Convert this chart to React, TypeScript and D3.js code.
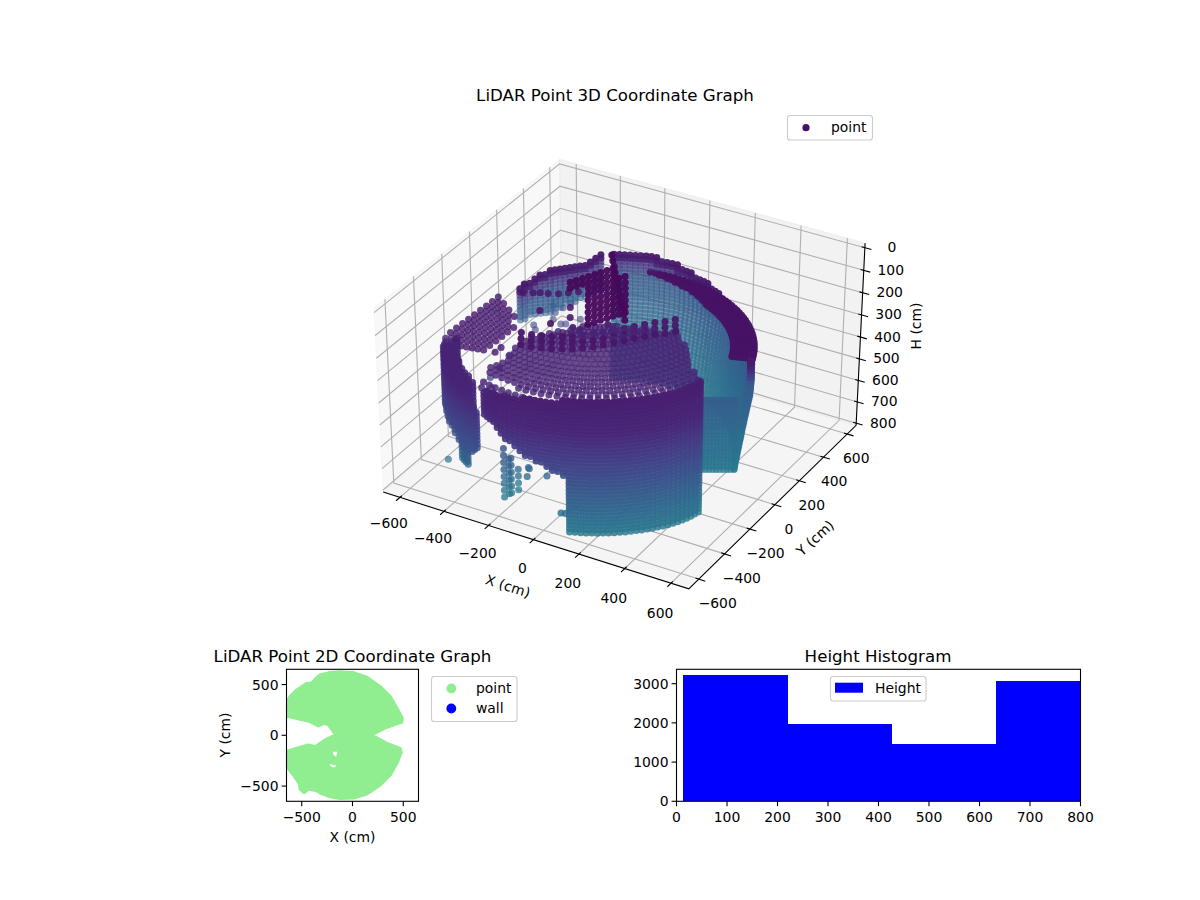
import * as d3 from 'd3';

// Point cloud values are estimates read off the picture: the real ~9650 points
// cannot be read one by one, so walls are typed as scan columns (azimuth, range,
// top and bottom height) and expanded over the lidar's scan rows below.
const xyTicks = [-600, -400, -200, 0, 200, 400, 600];
const hTicks = [0, 100, 200, 300, 400, 500, 600, 700, 800];
const scanRows = [0, 16, 32, 48, 64, 80, 96, 112, 128, 144, 160, 176, 192, 208, 224, 240, 256, 272, 288, 304, 320, 336, 352, 368, 384, 400, 416, 432, 448, 464, 480, 496, 512, 528, 544, 560, 576, 592, 608, 624, 640, 656, 672, 688, 704, 720, 736, 752, 768, 784, 800];
const sensor = [-110, 0];

// [azimuth deg, range cm, top cm, bottom cm]
const frontWall = [
  [-106, 590, 288, 392], [-104, 595, 272, 388], [-102, 600, 272, 385], [-100, 605, 256, 385], [-98, 610, 256, 400], [-96, 613, 256, 417],
  [-94, 616, 240, 432], [-92, 618, 240, 447], [-90, 618, 240, 458], [-88, 617, 240, 470], [-86, 616, 224, 480], [-84, 615, 224, 490],
  [-82, 613, 224, 500], [-80, 612, 224, 508], [-78, 611, 224, 520], [-76, 610, 224, 530], [-74, 610, 224, 538], [-72, 610, 208, 545],
  [-70, 610, 208, 800], [-68, 610, 208, 800], [-66, 610, 208, 800], [-64, 610, 208, 800], [-62, 610, 208, 800], [-60, 610, 208, 800],
  [-58, 610, 208, 800], [-56, 610, 208, 800], [-54, 610, 208, 800], [-52, 610, 208, 800], [-50, 610, 208, 800], [-48, 610, 208, 800],
  [-46, 610, 208, 800], [-44, 611, 208, 800], [-42, 611, 208, 800], [-40, 612, 208, 800], [-38, 612, 208, 800], [-36, 612, 208, 800],
  [-34, 612, 208, 800], [-32, 612, 208, 800], [-30, 612, 208, 800], [-28, 610, 208, 800], [-26, 608, 208, 800], [-24, 606, 208, 800],
  [-22, 603, 208, 800], [-20, 600, 208, 800],
];
const backWall = [
  [14, 605, 300, 800], [16, 600, 305, 800], [18, 598, 310, 800], [20, 595, 315, 800], [22, 594, 318, 800], [24, 593, 320, 800],
  [26, 592, 322, 800], [28, 591, 324, 800], [30, 590, 325, 800], [32, 590, 326, 800], [34, 590, 327, 800], [36, 590, 328, 800],
  [38, 590, 329, 800], [40, 590, 330, 800], [42, 592, 331, 800], [44, 594, 332, 800], [46, 596, 333, 800], [48, 598, 334, 800],
  [50, 600, 335, 800], [52, 602, 337, 800], [54, 604, 339, 800], [56, 606, 341, 800], [58, 608, 343, 800], [60, 610, 345, 800],
  [62, 611, 340, 800], [64, 612, 335, 800], [66, 613, 330, 800], [68, 614, 325, 800], [70, 615, 320, 800], [72, 616, 314, 800],
  [74, 617, 308, 800], [76, 618, 303, 800], [78, 619, 299, 800], [80, 620, 295, 800], [82, 620, 290, 800], [84, 621, 286, 800],
  [86, 621, 281, 800], [88, 622, 277, 800], [90, 622, 272, 800], [92, 620, 268, 800], [94, 618, 264, 800], [96, 616, 260, 800],
  [98, 614, 256, 800], [100, 612, 252, 800], [102, 609, 249, 800], [104, 606, 246, 800], [106, 603, 245, 800], [108, 601, 246, 800],
  [110, 599, 247, 800], [112, 598, 248, 800], [114, 597, 250, 800],
];
const hoodWall = [
  [119, 590, 250, 420], [121, 590, 265, 430], [123, 590, 280, 440], [125, 590, 290, 450], [127, 588, 292, 457], [129, 586, 294, 464],
  [131, 584, 295, 471], [133, 582, 296, 478], [135, 580, 297, 485], [137, 580, 298, 492], [139, 580, 300, 498], [141, 583, 305, 502],
  [143, 587, 315, 505], [145, 591, 330, 508], [147, 595, 340, 511], [149, 600, 350, 514], [151, 600, 358, 515],
];
// barrel: the back wall pulls in towards the floor
const insetHeights = [0, 450, 600, 800];
const insetCm = [0, 0, 25, 55];

// [range cm, height cm, from azimuth, to azimuth]
const ceilingRings = [
  [600, 262, -106, -92], [590, 205, -90, -20], [590, 240, -106, -84], [570, 200, -106, -20], [552, 192, -106, -19], [535, 185, -105, -18], [517, 176, -105, -17], [500, 168, -104, -16],
  [482, 159, -104, -15], [465, 150, -103, -14], [447, 140, -103, -13], [430, 128, -102, -12], [412, 117, -101, -11], [395, 105, -100, -10],
  [377, 95, -95, -20], [360, 85, -91, -22], [342, 78, -85, -28], [325, 72, -80, -34], [305, 62, -70, -44],
];
const ceilingAz = [-106, -103, -100, -97, -94, -91, -88, -85, -82, -79, -76, -73, -70, -67, -64, -61, -58, -55, -52, -49, -46, -43, -40, -37, -34, -31, -28, -25, -22, -19, -16, -13, -10];
const ceilingAzAlt = [-104.5, -101.5, -98.5, -95.5, -92.5, -89.5, -86.5, -83.5, -80.5, -77.5, -74.5, -71.5, -68.5, -65.5, -62.5, -59.5, -56.5, -53.5, -50.5, -47.5, -44.5, -41.5, -38.5, -35.5, -32.5, -29.5, -26.5, -23.5, -20.5, -17.5, -14.5, -11.5];
const bandRings = [
  [600, 320, 20, 100], [590, 320, 20, 96], [580, 320, 20, 92], [570, 320, 20, 88], [560, 320, 20, 84], [550, 320, 20, 78], [540, 320, 20, 74], [530, 320, 20, 70], [520, 320, 20, 66],
];
const bandAz = [20, 22, 24, 26, 28, 30, 32, 34, 36, 38, 40, 42, 44, 46, 48, 50, 52, 54, 56, 58, 60, 62, 64, 66, 68, 70, 72, 74, 76, 78, 80, 82, 84, 86, 88, 90, 92, 94, 96, 98, 100];

// [x cm, y cm, top cm, bottom cm]
const leftColumns = [
  [-640, -250, 310, 540], [-620, -290, 305, 550], [-600, -330, 300, 560], [-575, -365, 290, 555], [-550, -400, 280, 550], [-525, -430, 275, 550],
  [-500, -460, 270, 550], [-475, -480, 275, 555], [-450, -500, 280, 560], [-425, -513, 288, 580], [-400, -525, 295, 600], [-375, -533, 318, 600],
  [-350, -540, 340, 600], [-335, -545, 370, 590], [-320, -550, 400, 575],
  [-621, -239, 310, 520], [-601, -279, 305, 530], [-581, -319, 300, 540], [-556, -354, 290, 545], [-531, -389, 280, 545], [-506, -419, 275, 548],
  [-481, -449, 270, 550], [-456, -469, 275, 555], [-431, -489, 280, 565], [-406, -502, 288, 580], [-381, -514, 295, 590],
  [-602, -228, 310, 500], [-582, -268, 305, 510], [-562, -308, 300, 520], [-537, -343, 290, 530], [-512, -378, 280, 540], [-487, -408, 275, 545],
  [-462, -438, 270, 550], [-437, -458, 275, 555], [-412, -478, 280, 570], [-387, -491, 288, 580], [-362, -503, 300, 590],
  [-440, -470, 500, 700], [-425, -480, 500, 700], [-410, -490, 500, 700], [-395, -500, 510, 700],
];
const sparseColumns = [
  [-244, -485, 570, 800], [-227, -476, 610, 800], [-224, -413, 700, 800], [-236, -445, 640, 800],
];
const rightColumns = [
  [424, 133, 480, 800], [412, 126, 480, 800], [400, 119, 480, 800], [388, 112, 480, 800], [376, 105, 480, 800], [364, 98, 480, 800],
  [352, 91, 480, 800], [340, 84, 480, 800], [328, 77, 480, 800], [316, 70, 480, 800], [304, 63, 480, 800],
];

// [x cm, y cm, height cm]
const ceilingPatch = [
  [-474, -126, 150], [-476, -166, 150], [-478, -206, 150], [-480, -246, 150], [-482, -286, 150], [-484, -326, 150], [-486, -366, 150], [-488, -406, 150], [-490, -446, 150],
  [-431, -158, 150], [-433, -198, 150], [-435, -238, 150], [-437, -278, 150], [-439, -318, 150], [-441, -358, 150], [-443, -398, 150], [-445, -438, 150], [-447, -478, 150],
  [-388, -190, 150], [-390, -230, 150], [-392, -270, 150], [-394, -310, 150], [-396, -350, 150], [-398, -390, 150], [-400, -430, 150], [-402, -470, 150], [-404, -510, 150],
  [-345, -222, 150], [-347, -262, 150], [-349, -302, 150], [-351, -342, 150], [-353, -382, 150], [-355, -422, 150], [-357, -462, 150], [-359, -502, 150],
  [-304, -294, 150], [-306, -334, 150], [-308, -374, 150], [-310, -414, 150], [-312, -454, 150], [-314, -494, 150],
  [-267, -446, 150], [-269, -486, 150],
  [-454, -162, 150], [-456, -202, 150], [-458, -242, 150], [-460, -282, 150], [-462, -322, 150], [-464, -362, 150], [-466, -402, 150], [-468, -442, 150],
  [-411, -194, 150], [-413, -234, 150], [-415, -274, 150], [-417, -314, 150], [-419, -354, 150], [-421, -394, 150], [-423, -434, 150], [-425, -474, 150],
  [-368, -226, 150], [-370, -266, 150], [-372, -306, 150], [-374, -346, 150], [-376, -386, 150], [-378, -426, 150], [-380, -466, 150], [-382, -506, 150],
  [-327, -298, 150], [-329, -338, 150], [-331, -378, 150], [-333, -418, 150], [-335, -458, 150], [-337, -498, 150],
];
// thick inner edge of the ceiling fan
const ceilingEdge = [
  [-197, -413, 80], [-156, -407, 80], [-119, -395, 80], [-83, -382, 80], [-49, -363, 80], [-16, -344, 80], [13, -318, 80], [43, -292, 80],
  [68, -260, 80], [94, -228, 80], [120, -196, 80], [145, -163, 80], [171, -131, 80], [197, -99, 80], [226, -73, 80], [252, -41, 80],
  [-175, -452, 80], [-134, -446, 80], [-97, -434, 80], [-61, -421, 80], [-27, -402, 80], [6, -383, 80], [35, -357, 80], [65, -331, 80],
  [90, -299, 80], [116, -267, 80], [142, -235, 80], [167, -202, 80], [193, -170, 80], [219, -138, 80], [248, -112, 80], [274, -80, 80],
  [-152, -491, 80], [-111, -485, 80], [-74, -473, 80], [-38, -460, 80], [-4, -441, 80], [29, -422, 80], [58, -396, 80], [88, -370, 80],
  [113, -338, 80], [139, -306, 80], [165, -274, 80], [190, -241, 80], [216, -209, 80], [242, -177, 80], [271, -151, 80], [297, -119, 80],
];
const centerCluster = [
  [-187, -70, 30], [-175, -46, 30], [-162, -21, 30], [-150, 3, 30], [-137, 28, 30], [-125, 52, 30], [-112, 77, 30], [-100, 101, 30],
  [-165, -109, 30], [-152, -85, 30], [-140, -60, 30], [-127, -36, 30], [-115, -11, 30], [-102, 13, 30], [-90, 38, 30], [-77, 62, 30],
  [-105, -75, 30], [-92, -50, 30], [-80, -26, 30], [-67, -2, 30], [-55, 23, 30], [-43, 48, 30], [-30, 72, 30],
  [-82, -114, 30], [-70, -89, 30], [-57, -65, 30], [-45, -40, 30], [-32, -16, 30], [-20, 9, 30], [-7, 33, 30],
  [-60, -153, 30], [-47, -128, 30], [-35, -104, 30], [-22, -79, 30], [-10, -55, 30], [2, -31, 30], [15, -6, 30],
  [-37, -192, 30], [-25, -167, 30], [-12, -143, 30], [0, -118, 30], [13, -94, 30], [25, -70, 30], [38, -45, 30],
  [-15, -231, 30], [-2, -206, 30], [10, -182, 30], [23, -157, 30], [35, -133, 30], [47, -109, 30], [60, -84, 30],
  [8, -270, 30], [20, -245, 30], [33, -221, 30], [45, -196, 30], [58, -172, 30], [70, -148, 30], [83, -123, 30],
  [30, -309, 30], [43, -284, 30], [55, -260, 30], [68, -235, 30], [80, -211, 30], [92, -187, 30], [105, -162, 30],
  [-157, 190, 30], [-131, 153, 30], [-104, 117, 30], [-78, 80, 30], [-51, 43, 30], [-25, 6, 30], [2, -31, 30], [28, -67, 30], [55, -104, 30], [81, -141, 30], [108, -178, 30], [134, -215, 30],
];
const strayPoints = [
  [-364, -124, 100], [-331, -105, 100], [-308, -91, 100], [-278, -82, 100], [-244, -63, 100], [-215, -38, 100], [-186, -12, 100],
  [-152, -131, 100], [-114, -196, 100], [-240, -208, 100], [-155, -272, 100], [-67, -256, 100], [-36, -255, 100], [22, -248, 100], [35, -171, 100], [70, -194, 100],
  [-559, 267, 500], [-534, 238, 500], [-568, 435, 500], [-527, 442, 500], [-519, 489, 500], [-535, 394, 500], [-515, 344, 500], [-470, 327, 500], [-453, 337, 500], [-422, 398, 500],
  [-519, 21, 500], [-503, -83, 500], [-495, -165, 500], [-451, -226, 500],
  [-560, -385, 780], [-193, -389, 700], [-185, -395, 700], [-180, -420, 720], [-100, -405, 700], [34, -527, 760], [50, -522, 760],
];

// outlines of the 2D scatter
const upperLobe = [
  [-660, 299], [-615, 382], [-549, 447], [-451, 513], [-401, 513], [-368, 553], [-319, 595], [-220, 618], [-122, 625], [10, 618], [141, 572], [273, 480], [372, 382],
  [438, 266], [490, 170], [487, 130], [339, 79], [158, -10], [-155, -10], [-237, 102], [-280, 118], [-335, 92], [-418, 135], [-516, 158], [-660, 191],
];
const lowerLobe = [
  [-155, 10], [-270, -46], [-368, -112], [-434, -95], [-549, -128], [-660, -161], [-660, -293], [-582, -391], [-523, -480], [-516, -530], [-477, -566], [-434, -530],
  [-352, -546], [-312, -572], [-220, -605], [-122, -622], [10, -618], [141, -579], [273, -490], [372, -391], [438, -276], [480, -170], [470, -130], [339, -79], [174, 10],
];
const lowerHoleA = [[-194, -161], [-148, -161], [-161, -211], [-187, -194]];
const lowerHoleB = [[-220, -283], [-155, -303], [-188, -316], [-220, -303]];
const map2dTicks = [-500, 0, 500];

const histEdges = [12, 221, 427, 633, 844];
const histCounts = [3214, 1967, 1458, 3055];
const histXTicks = [0, 100, 200, 300, 400, 500, 600, 700, 800];
const histYTicks = [0, 1000, 2000, 3000];

const FONT = '"DejaVu Sans", sans-serif';
const TICK = 13.9;
const TITLE = 16.67;
const fmt = (v: number) => String(v).replace('-', '\u2212');

// mplot3d style camera
const rad = Math.PI / 180;
const elev = 37 * rad;
const azim = -60 * rad;
const camDist = 15;
const U = [-Math.sin(azim), Math.cos(azim)];
const V = [-Math.sin(elev) * Math.cos(azim), -Math.sin(elev) * Math.sin(azim), Math.cos(elev)];
const N = [Math.cos(elev) * Math.cos(azim), Math.cos(elev) * Math.sin(azim), Math.sin(elev)];
const xyLim: [number, number] = [-676, 676];
const hLim: [number, number] = [-20, 810];
const boxX = d3.scaleLinear().domain(xyLim).range([-0.62, 0.62]);
const boxH = d3.scaleLinear().domain(hLim).range([0.475, -0.475]);
const screenX = d3.scaleLinear().domain([0, 1]).range([622.5, 622.5 + 4267]);
const screenY = d3.scaleLinear().domain([0, 1]).range([368.5, 368.5 - 3620]);

function project(x: number, y: number, h: number) {
  const X = boxX(x), Y = boxX(y), Z = boxH(h);
  const a = X * U[0] + Y * U[1];
  const b = X * V[0] + Y * V[1] + Z * V[2];
  const c = X * N[0] + Y * N[1] + Z * N[2];
  const w = camDist - c;
  return { px: screenX(a / w), py: screenY(b / w), depth: c };
}
const P = (x: number, y: number, h: number) => {
  const p = project(x, y, h);
  return `${p.px.toFixed(1)},${p.py.toFixed(1)}`;
};

const polar = (az: number, r: number) => [sensor[0] + r * Math.cos(az * rad), sensor[1] + r * Math.sin(az * rad)];
const inset = d3.scaleLinear().domain(insetHeights).range(insetCm);
const colorT = d3.scaleLinear().domain([0, 80, 350, 800]).range([0, 0.06, 0.11, 0.4]);
// far walls turn blue just under their dark rim
const farWallT = d3.scaleLinear().domain([0, 32, 100, 550]).range([0.06, 0.12, 0.28, 0.43]).clamp(true);

function buildCloud() {
  const pts: { x: number; y: number; h: number; t: number; solid?: boolean; soft?: boolean }[] = [];
  const add = (x: number, y: number, h: number, t?: number, solid?: boolean, soft?: boolean) => pts.push({ x, y, h, t: t ?? colorT(h), solid, soft });
  const rows = (top: number, bottom: number) => scanRows.filter(h => h >= top && h <= bottom);

  frontWall.forEach(([az, r, top, bottom]) => {
    rows(top, bottom).forEach(h => {
      const [x, y] = polar(az, r);
      add(x, y, h);
    });
  });
  backWall.forEach(([az, r, top, bottom]) => {
    rows(top, bottom).forEach(h => {
      const [x, y] = polar(az, r - inset(h));
      add(x, y, h, farWallT(h - top), h - top < 36);
    });
  });
  hoodWall.forEach(([az, r, top, bottom]) => {
    rows(top, bottom).forEach(h => {
      const [x, y] = polar(az, r);
      add(x, y, h, farWallT(h - top), h - top < 36);
    });
  });
  leftColumns.forEach(([x, y, top, bottom]) => rows(top, bottom).forEach(h => add(x, y, h)));
  sparseColumns.forEach(([x, y, top, bottom]) => rows(top, bottom).filter((_, i) => i % 2 === 0).forEach(h => add(x, y, h)));
  rightColumns.forEach(([x, y, top, bottom]) => rows(top, bottom).forEach(h => add(x, y, h, farWallT(h - top + 150))));
  ceilingRings.forEach(([r, h, from, to], i) => {
    (i % 2 ? ceilingAzAlt : ceilingAz).filter(a => a >= from && a <= to).forEach(a => {
      const [x, y] = polar(a, r);
      add(x, y, h, 0.1, false, true);
    });
  });
  bandRings.forEach(([r, h, from, to]) => {
    bandAz.filter(a => a >= from && a <= to).forEach(a => {
      const [x, y] = polar(a, r);
      add(x, y, h, 0.05, true);
    });
  });
  ceilingPatch.forEach(([x, y, h]) => add(x, y, h, 0.08, false, true));
  ceilingEdge.forEach(([x, y, h]) => add(x, y, h));
  centerCluster.forEach(([x, y, h]) => add(x, y, h, undefined, true));
  strayPoints.forEach(([x, y, h]) => add(x, y, h));

  const projected = pts.map(d => ({ ...project(d.x, d.y, d.h), t: d.t, solid: d.solid, soft: d.soft }));
  const depthAlpha = d3.scaleLinear()
    .domain(d3.extent(projected, d => d.depth) as [number, number])
    .range([0.5, 1]);
  return projected
    .sort((a, b) => a.depth - b.depth)
    .map(d => ({ ...d, alpha: d.solid ? 0.95 : d.soft ? 0.82 : depthAlpha(d.depth), fill: d3.interpolateViridis(d.t) }));
}

function Plot3D() {
  const cloud = buildCloud();
  const [lo, hi] = xyLim;
  const [top, bot] = hLim;
  const gridStyle = { stroke: '#b0b0b0', strokeWidth: 1.1, fill: 'none' };
  const axisStyle = { stroke: '#000', strokeWidth: 1.1 };
  return (
    <g fontFamily={FONT} fontSize={TICK} fill="#000">
      <text x={615} y={101} fontSize={TITLE} textAnchor="middle">LiDAR Point 3D Coordinate Graph</text>
      <polygon points={[P(lo, lo, bot), P(lo, hi, bot), P(lo, hi, top), P(lo, lo, top)].join(' ')} fill="#f2f2f2" fillOpacity={0.5} stroke="#f2f2f2" strokeOpacity={0.5} />
      <polygon points={[P(lo, hi, bot), P(hi, hi, bot), P(hi, hi, top), P(lo, hi, top)].join(' ')} fill="#e6e6e6" fillOpacity={0.5} stroke="#e6e6e6" strokeOpacity={0.5} />
      <polygon points={[P(lo, lo, bot), P(hi, lo, bot), P(hi, hi, bot), P(lo, hi, bot)].join(' ')} fill="#ececec" fillOpacity={0.5} stroke="#ececec" strokeOpacity={0.5} />
      {xyTicks.map(t => <polyline key={`gx${t}`} {...gridStyle} points={[P(t, lo, bot), P(t, hi, bot), P(t, hi, top)].join(' ')} />)}
      {xyTicks.map(t => <polyline key={`gy${t}`} {...gridStyle} points={[P(hi, t, bot), P(lo, t, bot), P(lo, t, top)].join(' ')} />)}
      {hTicks.map(t => <polyline key={`gh${t}`} {...gridStyle} points={[P(lo, lo, t), P(lo, hi, t), P(hi, hi, t)].join(' ')} />)}

      <polyline points={[P(lo, lo, bot), P(hi, lo, bot), P(hi, hi, bot), P(hi, hi, top)].join(' ')} fill="none" {...axisStyle} />
      {xyTicks.map(t => {
        const a = project(t, lo + 14, bot), b = project(t, lo - 28, bot);
        const l = project(t, lo, bot);
        return (
          <g key={`tx${t}`}>
            <line x1={a.px} y1={a.py} x2={b.px} y2={b.py} {...axisStyle} />
            <text x={l.px - 11} y={l.py + 31 + ((t + 600) / 1200) * 4} textAnchor="middle">{fmt(t)}</text>
          </g>
        );
      })}
      {xyTicks.map(t => {
        const a = project(hi - 14, t, bot), b = project(hi + 28, t, bot);
        const l = project(hi, t, bot);
        return (
          <g key={`ty${t}`}>
            <line x1={a.px} y1={a.py} x2={b.px} y2={b.py} {...axisStyle} />
            <text x={l.px + 19 - ((t + 600) / 1200) * 10} y={l.py + 29} textAnchor="middle">{fmt(t)}</text>
          </g>
        );
      })}
      {hTicks.map(t => {
        const a = project(hi - 14, hi, t), b = project(hi + 28, hi, t);
        const l = project(hi, hi, t);
        return (
          <g key={`th${t}`}>
            <line x1={a.px} y1={a.py} x2={b.px} y2={b.py} {...axisStyle} />
            <text x={l.px + 27} y={l.py + 4.5} textAnchor="middle">{t}</text>
          </g>
        );
      })}
      <text transform="translate(508,586) rotate(18)" textAnchor="middle" dominantBaseline="central">X (cm)</text>
      <text transform="translate(815,538) rotate(-42)" textAnchor="middle" dominantBaseline="central">Y (cm)</text>
      <text transform="translate(916,326) rotate(-90)" textAnchor="middle" dominantBaseline="central">H (cm)</text>

      <g>
        {cloud.map((d, i) => (
          <circle key={i} cx={d.px.toFixed(1)} cy={d.py.toFixed(1)} r={3.5} fill={d.fill} fillOpacity={d.alpha.toFixed(2)} />
        ))}
      </g>

      <rect x={787.5} y={115.5} width={85} height={24.5} rx={2.8} fill="#fff" fillOpacity={0.8} stroke="#ccc" strokeWidth={1.1} />
      <circle cx={806} cy={127.7} r={3.6} fill="#461264" />
      <text x={831} y={131.5}>point</text>
    </g>
  );
}

function Plot2D() {
  const x = d3.scaleLinear().domain([-650, 650]).range([286.5, 418.5]);
  const y = d3.scaleLinear().domain([-650, 650]).range([801.3, 669.3]);
  const line = d3.line<number[]>().x(d => x(d[0])).y(d => y(d[1])).curve(d3.curveLinearClosed);
  const lobes = [upperLobe, lowerLobe].map(o => line(o)).join(' ');
  const holes = [lowerHoleA, lowerHoleB].map(o => line(o)).join(' ');
  return (
    <g fontFamily={FONT} fontSize={TICK} fill="#000">
      <text x={352.5} y={662} fontSize={TITLE} textAnchor="middle">LiDAR Point 2D Coordinate Graph</text>
      <clipPath id="map2d"><rect x={286.5} y={669.3} width={132} height={132} /></clipPath>
      <g clipPath="url(#map2d)">
        <path d={lobes} fill="#90ee90" stroke="#90ee90" strokeWidth={3} strokeLinejoin="round" />
        <path d={holes} fill="#fff" />
      </g>
      <rect x={286.5} y={669.3} width={132} height={132} fill="none" stroke="#000" strokeWidth={1.1} />
      {map2dTicks.map(t => (
        <g key={`x${t}`}>
          <line x1={x(t)} x2={x(t)} y1={801.3} y2={806.2} stroke="#000" strokeWidth={1.1} />
          <text x={x(t)} y={822} textAnchor="middle">{fmt(t)}</text>
        </g>
      ))}
      {map2dTicks.map(t => (
        <g key={`y${t}`}>
          <line x1={281.6} x2={286.5} y1={y(t)} y2={y(t)} stroke="#000" strokeWidth={1.1} />
          <text x={278.5} y={y(t) + 5} textAnchor="end">{fmt(t)}</text>
        </g>
      ))}
      <text x={352.5} y={842} textAnchor="middle">X (cm)</text>
      <text transform="translate(225,735) rotate(-90)" textAnchor="middle" dominantBaseline="central">Y (cm)</text>
      <rect x={431.5} y={676.5} width={85.5} height={45} rx={2.8} fill="#fff" fillOpacity={0.8} stroke="#ccc" strokeWidth={1.1} />
      <circle cx={451.3} cy={688.5} r={4.9} fill="#90ee90" />
      <circle cx={451.3} cy={708.5} r={4.9} fill="#0000ff" />
      <text x={476} y={693}>point</text>
      <text x={476} y={713}>wall</text>
    </g>
  );
}

function Histogram() {
  const x = d3.scaleLinear().domain([0, 800]).range([676.5, 1080.5]);
  const y = d3.scaleLinear().domain([0, 3366]).range([801.3, 669.3]);
  return (
    <g fontFamily={FONT} fontSize={TICK} fill="#000">
      <text x={878} y={662} fontSize={TITLE} textAnchor="middle">Height Histogram</text>
      <clipPath id="hist"><rect x={676.5} y={669.3} width={404} height={132} /></clipPath>
      <g clipPath="url(#hist)" shapeRendering="crispEdges">
        {histCounts.map((c, i) => (
          <rect key={i} x={x(histEdges[i])} width={x(histEdges[i + 1]) - x(histEdges[i])} y={y(c)} height={y(0) - y(c)} fill="#0000ff" />
        ))}
      </g>
      <rect x={676.5} y={669.3} width={404} height={132} fill="none" stroke="#000" strokeWidth={1.1} />
      {histXTicks.map(t => (
        <g key={`x${t}`}>
          <line x1={x(t)} x2={x(t)} y1={801.3} y2={806.2} stroke="#000" strokeWidth={1.1} />
          <text x={x(t)} y={822} textAnchor="middle">{t}</text>
        </g>
      ))}
      {histYTicks.map(t => (
        <g key={`y${t}`}>
          <line x1={671.6} x2={676.5} y1={y(t)} y2={y(t)} stroke="#000" strokeWidth={1.1} />
          <text x={668.5} y={y(t) + 5} textAnchor="end">{t}</text>
        </g>
      ))}
      <rect x={830.5} y={676.5} width={95.5} height={24.5} rx={2.8} fill="#fff" fillOpacity={0.8} stroke="#ccc" strokeWidth={1.1} />
      <rect x={835} y={682.7} width={28} height={10} fill="#0000ff" />
      <text x={875} y={693}>Height</text>
    </g>
  );
}

export default function App() {
  return (
    <svg width={1200} height={900} viewBox="0 0 1200 900" style={{ position: 'absolute', left: 0, top: 0, background: '#fff' }}>
      <Plot3D />
      <Plot2D />
      <Histogram />
    </svg>
  );
}
